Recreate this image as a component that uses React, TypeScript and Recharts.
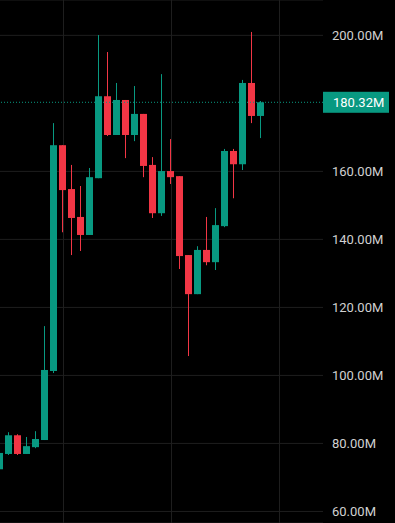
import { Bar, CartesianGrid, ComposedChart, ReferenceLine, XAxis, YAxis } from "recharts"

// OHLC, one entry per candle (values in millions)
const OPEN = [72.4, 76.9, 82.4, 76.9, 78.9, 81.0, 101.3, 167.7, 154.8, 146.6, 141.3, 158.0, 182.1, 170.7, 181.0, 170.7, 176.9, 161.9, 147.7, 160.1, 158.6, 135.4, 123.9, 136.9, 133.3, 143.9, 166.0, 162.1, 186.0, 176.3]
const CLOSE = [77.2, 82.4, 76.9, 79.2, 81.3, 101.6, 167.7, 154.5, 146.3, 141.3, 158.3, 182.1, 170.7, 181.0, 170.7, 176.9, 161.6, 147.7, 160.1, 158.3, 135.1, 123.9, 136.9, 133.3, 144.2, 166.0, 162.1, 186.0, 176.3, 180.32]
const HIGH = [77.3, 83.3, 82.7, 81.9, 83.6, 114.5, 174.2, 167.7, 161.9, 155.7, 161.0, 200.1, 195.1, 186.0, 181.0, 185.1, 176.9, 164.2, 188.6, 169.5, 158.6, 135.4, 138.0, 146.6, 149.2, 166.6, 166.6, 186.9, 201.0, 180.7]
const LOW = [72.3, 76.6, 76.6, 76.9, 78.6, 81.0, 100.7, 142.1, 135.4, 136.6, 141.3, 158.0, 170.4, 170.7, 163.9, 168.9, 158.3, 146.3, 146.9, 156.3, 131.3, 105.7, 123.9, 132.4, 131.0, 143.6, 152.1, 160.4, 174.2, 169.8]

// 180.00M sits under the last-price label, so it is not shown
const Y_TICKS = [60, 80, 100, 120, 140, 160, 200]
const X_GRID = [7, 19, 31]
const X_DOMAIN = [1 / 18, 35 + 17 / 18]
const LAST = 180.32

const UP = "#089981"
const DOWN = "#f23645"
const GRID = "#1e1e1e"
const TEXT = "#d1d1d1"
const FONT = "Roboto, 'Liberation Sans', sans-serif"

const data = OPEN.map((o, i) => ({
  i,
  open: o,
  close: CLOSE[i],
  high: HIGH[i],
  low: LOW[i],
  range: [LOW[i], HIGH[i]],
}))

function Candle(props: any) {
  const { x, y, width, height, payload } = props
  const { open, close, high, low } = payload
  const top = Math.min(y, y + height)
  const h = Math.abs(height)
  const k = high > low ? h / (high - low) : 0
  const yO = top + (high - open) * k
  const yC = top + (high - close) * k
  const color = close >= open ? UP : DOWN
  const cx = x + width / 2
  return (
    <g>
      <rect x={cx - 0.5} y={top} width={1} height={Math.max(1, h)} fill={color} />
      <rect x={x} y={Math.min(yO, yC)} width={width} height={Math.max(1, Math.abs(yO - yC))} fill={color} />
    </g>
  )
}

function LastLabel({ viewBox }: any) {
  if (!viewBox) return null
  const { x, y, width } = viewBox
  const left = x + width
  return (
    <g>
      <rect x={left} y={y - 10.5} width={66} height={21} fill={UP} />
      <text x={left + 10} y={y} dy="0.355em" fill="#ffffff" fontSize={13} fontFamily={FONT}>
        {`${LAST.toFixed(2)}M`}
      </text>
    </g>
  )
}

// vertical grid only at the X_GRID positions (maps them with the x domain)
function gridX({ offset }: any) {
  const [d0, d1] = X_DOMAIN
  return X_GRID.map((t) => Math.round(offset.left + ((t - d0) / (d1 - d0)) * offset.width) + 0.5)
}

export default function App() {
  return (
    <div style={{ position: "absolute", left: 0, top: 0, width: 395, height: 523, background: "#000" }}>
      <ComposedChart width={395} height={523} data={data} margin={{ top: 0, right: 0, bottom: 0, left: 0 }}>
        <CartesianGrid stroke={GRID} verticalCoordinatesGenerator={gridX} />
        <XAxis
          type="number"
          dataKey="i"
          domain={X_DOMAIN}
          allowDataOverflow
          ticks={X_GRID}
          tick={false}
          axisLine={false}
          tickLine={false}
          height={0}
        />
        <YAxis
          orientation="right"
          width={72}
          domain={[56.6, 210.4]}
          allowDataOverflow
          ticks={Y_TICKS}
          axisLine={false}
          tickLine={false}
          tickMargin={3}
          tick={{ fill: TEXT, fontSize: 13, fontFamily: FONT }}
          tickFormatter={(v: number) => `${v.toFixed(2)}M`}
        />
        <Bar dataKey="range" barSize={7} shape={Candle} isAnimationActive={false} />
        <ReferenceLine
          y={LAST}
          stroke={UP}
          strokeDasharray="1 2"
          ifOverflow="extendDomain"
          label={(p: any) => <LastLabel {...p} />}
        />
      </ComposedChart>
    </div>
  )
}
